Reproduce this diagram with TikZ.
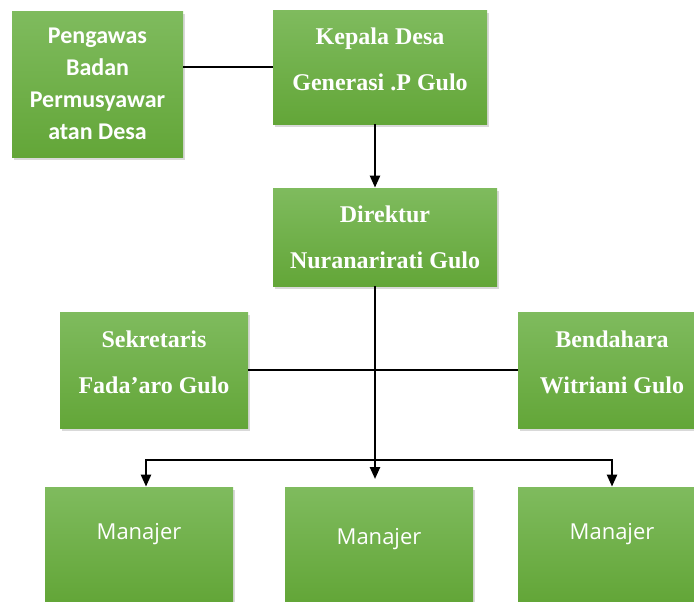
\documentclass[tikz,border=0pt]{standalone}
\usepackage{fontspec}
\usepackage{tikz}
\usetikzlibrary{positioning, arrows.meta, shadows, calc}
\newfontfamily\calibrifont{Carlito}
\newfontfamily\timesfont{Liberation Serif}
\newfontfamily\opensansfont{Open Sans}
\definecolor{leaftop}{RGB}{127, 187, 94}
\definecolor{leafbot}{RGB}{99, 166, 56}

\begin{document}
\begin{tikzpicture}[x=0.5pt, y=-0.5pt, >={Triangle[width=5pt,length=6pt]},
    box/.style={rectangle, top color=leaftop, bottom color=leafbot, draw=none,
        text=white, align=center, inner sep=0pt,
        drop shadow={shadow xshift=1pt, shadow yshift=-1.5pt, opacity=0.3}},
    times/.style={font=\timesfont\bfseries\fontsize{12}{23}\selectfont, text=white, align=center},
    manfont/.style={font=\opensansfont\fontsize{11}{13}\selectfont, text height=8.5pt},
    line/.style={line width=1.2pt, black}]
\clip (0,0) rectangle (694,601);
% top row
\node[box, font=\calibrifont\bfseries\fontsize{12}{16}\selectfont,
    minimum width=85.5pt, minimum height=73pt] (pengawas) at (97.5,84)
    {Pengawas\\Badan\\Permusyawar\\atan Desa};
\node[box, minimum width=107pt, minimum height=57pt] (kepala) at (380,67) {};
\node[times] (kepala-txt) at ([yshift=4pt]kepala.center) {Kepala Desa\\Generasi .P Gulo};
% direktur and staff
\node[box, times, minimum width=112pt, minimum height=49pt] (direktur) at (385,237)
    {Direktur\\Nuranarirati Gulo};
\node[box, minimum width=94pt, minimum height=58pt] (sekretaris) at (154,370) {};
\node[times] (sekretaris-txt) at ([yshift=4pt]sekretaris.center) {Sekretaris\\Fada’aro Gulo};
\node[box, minimum width=94pt, minimum height=58pt] (bendahara) at (612,370) {};
\node[times] (bendahara-txt) at ([yshift=4pt]bendahara.center) {Bendahara\\Witriani Gulo};
% managers
\node[box, manfont, text depth=13.5pt, minimum width=94pt, minimum height=57pt] (manajer1) at (139,544) {Manajer};
\node[box, manfont, text depth=8.5pt, minimum width=94pt, minimum height=57pt] (manajer2) at (379,544) {Manajer};
\node[box, manfont, text depth=13.5pt, minimum width=94pt, minimum height=57pt] (manajer3) at (612,544) {Manajer};

\coordinate (fork) at (375,460);
\coordinate (forkL) at (146,460);
\coordinate (forkR) at (612,460);
\coordinate (midtip) at (375,479);

\draw[line] (pengawas.east |- kepala.west) -- (kepala.west);
\draw[line, ->] (kepala.south -| fork) -- (direktur.north -| fork);
\draw[line] (sekretaris.east) -- (bendahara.west);
\draw[line] (direktur.south -| fork) -- (fork);
\draw[line, ->] (fork) -- (midtip);
\draw[line, <->] (forkL |- manajer1.north) -- (forkL) -- (forkR) -- (forkR |- manajer3.north);
\end{tikzpicture}
\end{document}
